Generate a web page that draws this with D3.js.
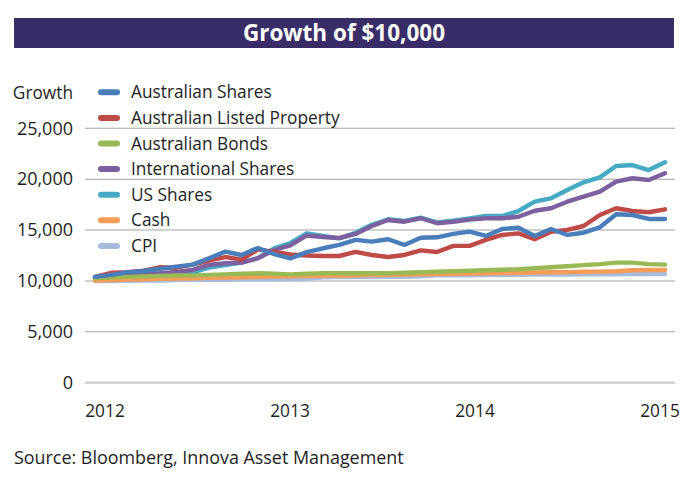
<!DOCTYPE html>
<html>
<head>
<meta charset="utf-8">
<script src="https://cdn.jsdelivr.net/npm/d3@7"></script>
<style>
  html, body { margin: 0; padding: 0; background: #fff; }
  svg { display: block; font-family: "Open Sans", sans-serif; }
</style>
</head>
<body>
<svg id="chart" width="688" height="478"></svg>
<script>
// ---- data (monthly, Jan 2012 .. Dec 2014) ----
const title = "Growth of $10,000";
const yLabel = "Growth";
const source = "Source: Bloomberg, Innova Asset Management";
const yearLabels = ["2012", "2013", "2014", "2015"];
const yTicks = [0, 5000, 10000, 15000, 20000, 25000];
const seriesNames = ["Australian Shares", "Australian Listed Property", "Australian Bonds",
  "International Shares", "US Shares", "Cash", "CPI"];
const seriesColors = ["#4a7ebb", "#be4b48", "#98b954", "#7d60a0", "#46aac5", "#f59d56", "#a7bbdd"];

const ausShares = [10400, 10600, 10850, 10980, 11200, 11410, 11600, 12220, 12880, 12550, 13240, 12640,
  12210, 12830, 13210, 13540, 14030, 13860, 14100, 13540, 14250, 14290, 14620, 14850,
  14420, 15110, 15230, 14420, 15110, 14520, 14740, 15270, 16550, 16480, 16090, 16090];
const ausProperty = [10400, 10800, 10850, 11000, 11350, 11300, 11600, 12000, 12350, 12100, 13100, 12850,
  12600, 12500, 12450, 12450, 12850, 12550, 12350, 12550, 13000, 12850, 13450, 13450,
  14030, 14520, 14680, 14100, 14840, 15010, 15400, 16480, 17140, 16870, 16750, 17040];
const ausBonds = [10250, 10350, 10400, 10450, 10500, 10550, 10550, 10600, 10650, 10700, 10750, 10700,
  10650, 10700, 10750, 10750, 10750, 10750, 10750, 10800, 10850, 10900, 10950, 11000,
  11050, 11100, 11150, 11250, 11350, 11450, 11550, 11650, 11800, 11800, 11650, 11600];
const intlShares = [10300, 10550, 10690, 10740, 10760, 10880, 11080, 11570, 11740, 11800, 12230, 13040,
  13490, 14470, 14320, 14220, 14620, 15400, 15990, 15820, 16160, 15670, 15820, 16020,
  16160, 16160, 16310, 16900, 17140, 17790, 18280, 18780, 19760, 20090, 19920, 20580];
const usShares = [10300, 10450, 10550, 10600, 10650, 10700, 10850, 11310, 11570, 11800, 12230, 13210,
  13730, 14680, 14420, 14190, 14730, 15520, 16060, 15890, 16220, 15760, 15920, 16140,
  16380, 16380, 16870, 17790, 18120, 18940, 19690, 20180, 21290, 21390, 20900, 21660];
const cash = [10050, 10090, 10130, 10170, 10210, 10240, 10270, 10300, 10330, 10360, 10390, 10420,
  10450, 10480, 10500, 10530, 10560, 10580, 10610, 10630, 10660, 10680, 10710, 10730,
  10760, 10780, 10800, 10830, 10850, 10870, 10900, 10920, 10950, 11050, 11080, 11080];
const cpi = [10000, 10000, 10020, 10050, 10050, 10080, 10100, 10100, 10120, 10150, 10150, 10150,
  10180, 10200, 10350, 10380, 10380, 10380, 10400, 10400, 10450, 10550, 10550, 10560,
  10580, 10580, 10600, 10620, 10620, 10640, 10650, 10650, 10660, 10680, 10680, 10680];

const seriesValues = [ausShares, ausProperty, ausBonds, intlShares, usShares, cash, cpi];

// ---- drawing ----
const svg = d3.select("#chart");
const textColor = "#1e1e1e";

// title bar
svg.append("rect").attr("x", 14).attr("y", 18).attr("width", 660).attr("height", 30)
  .attr("fill", "#382d66");
svg.append("text").attr("x", 344).attr("y", 41).attr("text-anchor", "middle")
  .attr("fill", "#fff").attr("font-weight", "bold").attr("font-size", 22.5)
  .text(title);

const x = d3.scaleLinear().domain([0, ausShares.length - 1]).range([95, 665]);
const y = d3.scaleLinear().domain([0, 25000]).range([382.7, 128.3]);
const xLab = d3.scalePoint().domain(yearLabels).range([105, 660]);

// gridlines
svg.append("g").selectAll("line").data(yTicks).join("line")
  .attr("x1", 85).attr("x2", 675)
  .attr("y1", d => y(d)).attr("y2", d => y(d))
  .attr("stroke", d => d === 0 ? "#cdcdcd" : "#a3a3a3")
  .attr("stroke-width", d => d === 0 ? 2.2 : 1.1);

// y tick labels
svg.append("g").selectAll("text").data(yTicks).join("text")
  .attr("x", 73).attr("y", d => y(d)).attr("dy", "0.35em")
  .attr("text-anchor", "end").attr("font-size", 18).attr("fill", textColor)
  .text(d => d3.format(",")(d));

svg.append("text").attr("x", 73).attr("y", 92.5).attr("dy", "0.35em")
  .attr("text-anchor", "end").attr("font-size", 17.3).attr("fill", textColor).text(yLabel);

// x labels
svg.append("g").selectAll("text").data(yearLabels).join("text")
  .attr("x", d => xLab(d)).attr("y", 411).attr("dy", "0.35em")
  .attr("text-anchor", "middle").attr("font-size", 17.3).attr("fill", textColor)
  .text(d => d);

// source
svg.append("text").attr("x", 14).attr("y", 458).attr("dy", "0.35em")
  .attr("font-size", 17.9).attr("fill", textColor).text(source);

// lines (drawn last series first so Australian Shares is on top)
const line = d3.line().x((d, i) => x(i)).y(d => y(d));
const order = d3.range(seriesValues.length).reverse();
svg.append("g").selectAll("path").data(order).join("path")
  .attr("d", k => line(seriesValues[k]))
  .attr("fill", "none")
  .attr("stroke", k => seriesColors[k])
  .attr("stroke-width", 4.4)
  .attr("stroke-linejoin", "round")
  .attr("stroke-linecap", "round");

// legend
const lg = svg.append("g").selectAll("g").data(seriesNames).join("g")
  .attr("transform", (d, i) => `translate(0,${92.3 + i * 25.6})`);
lg.append("line").attr("x1", 101).attr("x2", 117).attr("y1", 0).attr("y2", 0)
  .attr("stroke", (d, i) => seriesColors[i]).attr("stroke-width", 6).attr("stroke-linecap", "round");
lg.append("text").attr("x", 131).attr("y", 0).attr("dy", "0.35em")
  .attr("font-size", 17.3).attr("fill", textColor).text(d => d);
</script>
</body>
</html>
